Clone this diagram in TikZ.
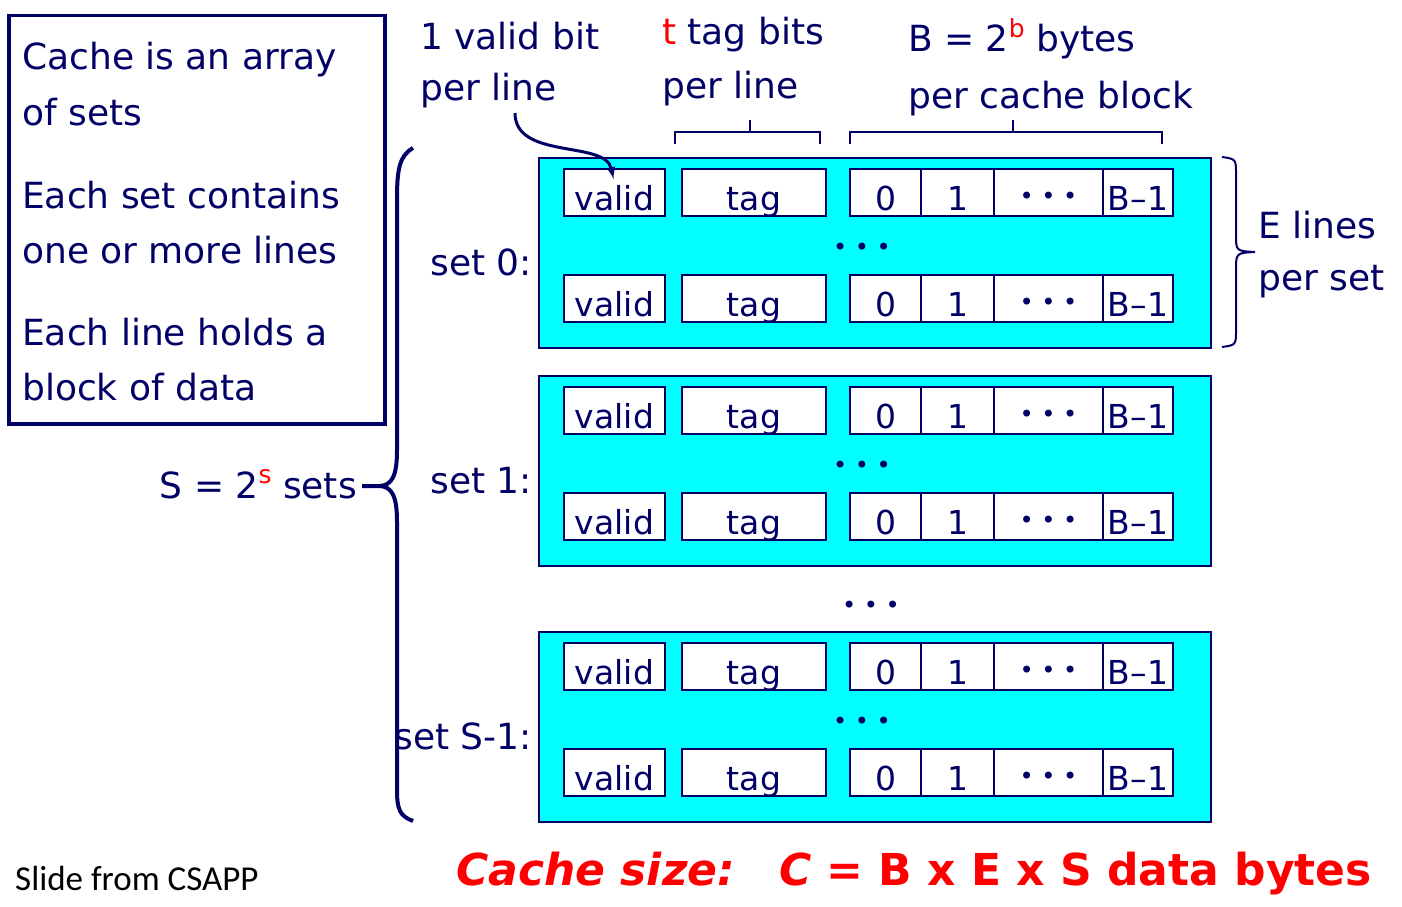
\documentclass[tikz,border=0pt]{standalone}
\usepackage{fontspec}
\setmainfont{DejaVu Sans}
\newfontfamily\slidefont{Carlito}
\usetikzlibrary{positioning,arrows}
\definecolor{navy}{RGB}{0,0,102}
\definecolor{setcyan}{RGB}{0,255,255}

\newcommand{\bigtxt}{\fontsize{36}{43}\selectfont}
\newcommand{\celltxt}{\fontsize{33}{39}\selectfont}
\newcommand{\dottxt}{\fontsize{24}{28}\selectfont}
\newcommand{\redsup}[1]{\raisebox{0.4em}{\fontsize{25}{30}\selectfont\textcolor{red}{#1}}}

\tikzset{
  lbl/.style={text=navy, font=\bigtxt, inner sep=0pt},
  setbox/.style={draw=navy, line width=2pt, fill=setcyan, minimum width=672pt, minimum height=190pt, inner sep=0pt},
  cell/.style={draw=navy, line width=2pt, fill=white, text=navy, font=\celltxt, inner sep=0pt, minimum height=47pt, text height=35pt, text depth=0pt},
  dotcell/.style={cell, font=\dottxt, text height=24pt},
  bracket/.style={draw=navy, line width=2pt},
}

\begin{document}
\begin{tikzpicture}[x=1pt,y=-1pt]
\useasboundingbox (0,0) rectangle (1402,907);
\path[fill=white] (0,0) rectangle (1402,907);

% info box on the left
\node[draw=navy, line width=3.5pt, minimum width=376pt, minimum height=408pt, anchor=north west] (info) at (7,14) {};
\node[lbl, anchor=base west] (info1) at (22,70) {Cache is an array};
\node[lbl, anchor=base west] (info2) at (22,125) {of sets};
\node[lbl, anchor=base west] (info3) at (22,208) {Each set contains};
\node[lbl, anchor=base west] (info4) at (22,263) {one or more lines};
\node[lbl, anchor=base west] (info5) at (22,345) {Each line holds a};
\node[lbl, anchor=base west] (info6) at (22,400) {block of data};

% top labels
\node[lbl, anchor=base west] (vbit1) at (420,50) {1 valid bit};
\node[lbl, anchor=base west] (vbit2) at (420,100) {per line};
\node[lbl, anchor=base west] (tbit1) at (662,45) {\textcolor{red}{t} tag bits};
\node[lbl, anchor=base west] (tbit2) at (662,98) {per line};
\node[lbl, anchor=base west] (bbyte1) at (908,52) {B = 2\redsup{b} bytes};
\node[lbl, anchor=base west] (bbyte2) at (908,108) {per cache block};

\draw[bracket] (675,144) -- (675,132) -- (820,132) -- (820,144);
\draw[bracket] (750,132) -- (750,120);
\draw[bracket] (850,144) -- (850,132) -- (1162,132) -- (1162,144);
\draw[bracket] (1013,132) -- (1013,120);

% the sets
\foreach \s/\y/\setname in {0/157/set 0:, 1/375/set 1:, 2/631/set S-1:} {
  \node[setbox, anchor=north west] (set\s) at (538,\y) {};
  \node[lbl, anchor=base east] (setlbl\s) at (532,\y+118) {\setname};
  \foreach \l/\dy in {0/35.5, 1/141.5} {
    \node[cell, minimum width=101pt] (valid\s\l) at (614.5,\y+\dy) {valid};
    \node[cell, minimum width=144pt] (tag\s\l) at (754,\y+\dy) {tag};
    \node[cell, minimum width=71pt] (bytea\s\l) at (885.5,\y+\dy) {0};
    \node[cell, minimum width=73pt] (byteb\s\l) at (957.5,\y+\dy) {1};
    \node[dotcell, minimum width=109pt] (bytec\s\l) at (1048.5,\y+\dy) {• • •};
    \node[cell, minimum width=70pt] (byted\s\l) at (1138,\y+\dy) {B–1};
  }
  \node[lbl, font=\dottxt] (mdots\s) at (862,\y+92) {• • •};
}
\node[lbl, font=\dottxt] (sdots) at (871,607) {• • •};

% arrow to the valid bit
\coordinate (arrtail) at (515,113);
\draw[->, >=latex, navy, line width=3pt] (arrtail) .. controls (515,160) and (605,140) .. ([xshift=-1pt,yshift=-11pt]valid00.north);

% E lines per set
\draw[navy, line width=2pt] (1222,157) .. controls (1236,159) .. (1236,175) -- (1236,235) .. controls (1236,251) .. (1255,252)
  .. controls (1236,253) .. (1236,270) -- (1236,330) .. controls (1236,345) .. (1222,347);
\node[lbl, anchor=base west] (elines1) at (1258,238) {E lines};
\node[lbl, anchor=base west] (elines2) at (1258,290) {per set};

% S sets
\node[lbl, anchor=base east] (ssets) at (357,498) {S = 2\redsup{s} sets};
\draw[navy, line width=4pt] (413,148) .. controls (399,156) and (397,170) .. (397,200) -- (397,450)
  .. controls (397,476) and (392,485) .. (380,486) -- (362,486);
\draw[navy, line width=4pt] (380,486) .. controls (392,487) and (397,496) .. (397,522) -- (397,790)
  .. controls (397,810) and (400,816) .. (413,821);

% bottom
\node[anchor=base west, inner sep=0pt, font=\slidefont\fontsize{35}{42}\selectfont] (credit) at (15,890) {Slide from CSAPP};
\node[anchor=base west, inner sep=0pt, text=red, font=\bfseries\fontsize{44}{52}\selectfont] (csize) at (456,885) {\itshape Cache size:\quad C \upshape = B x E x S data bytes};
\end{tikzpicture}
\end{document}
